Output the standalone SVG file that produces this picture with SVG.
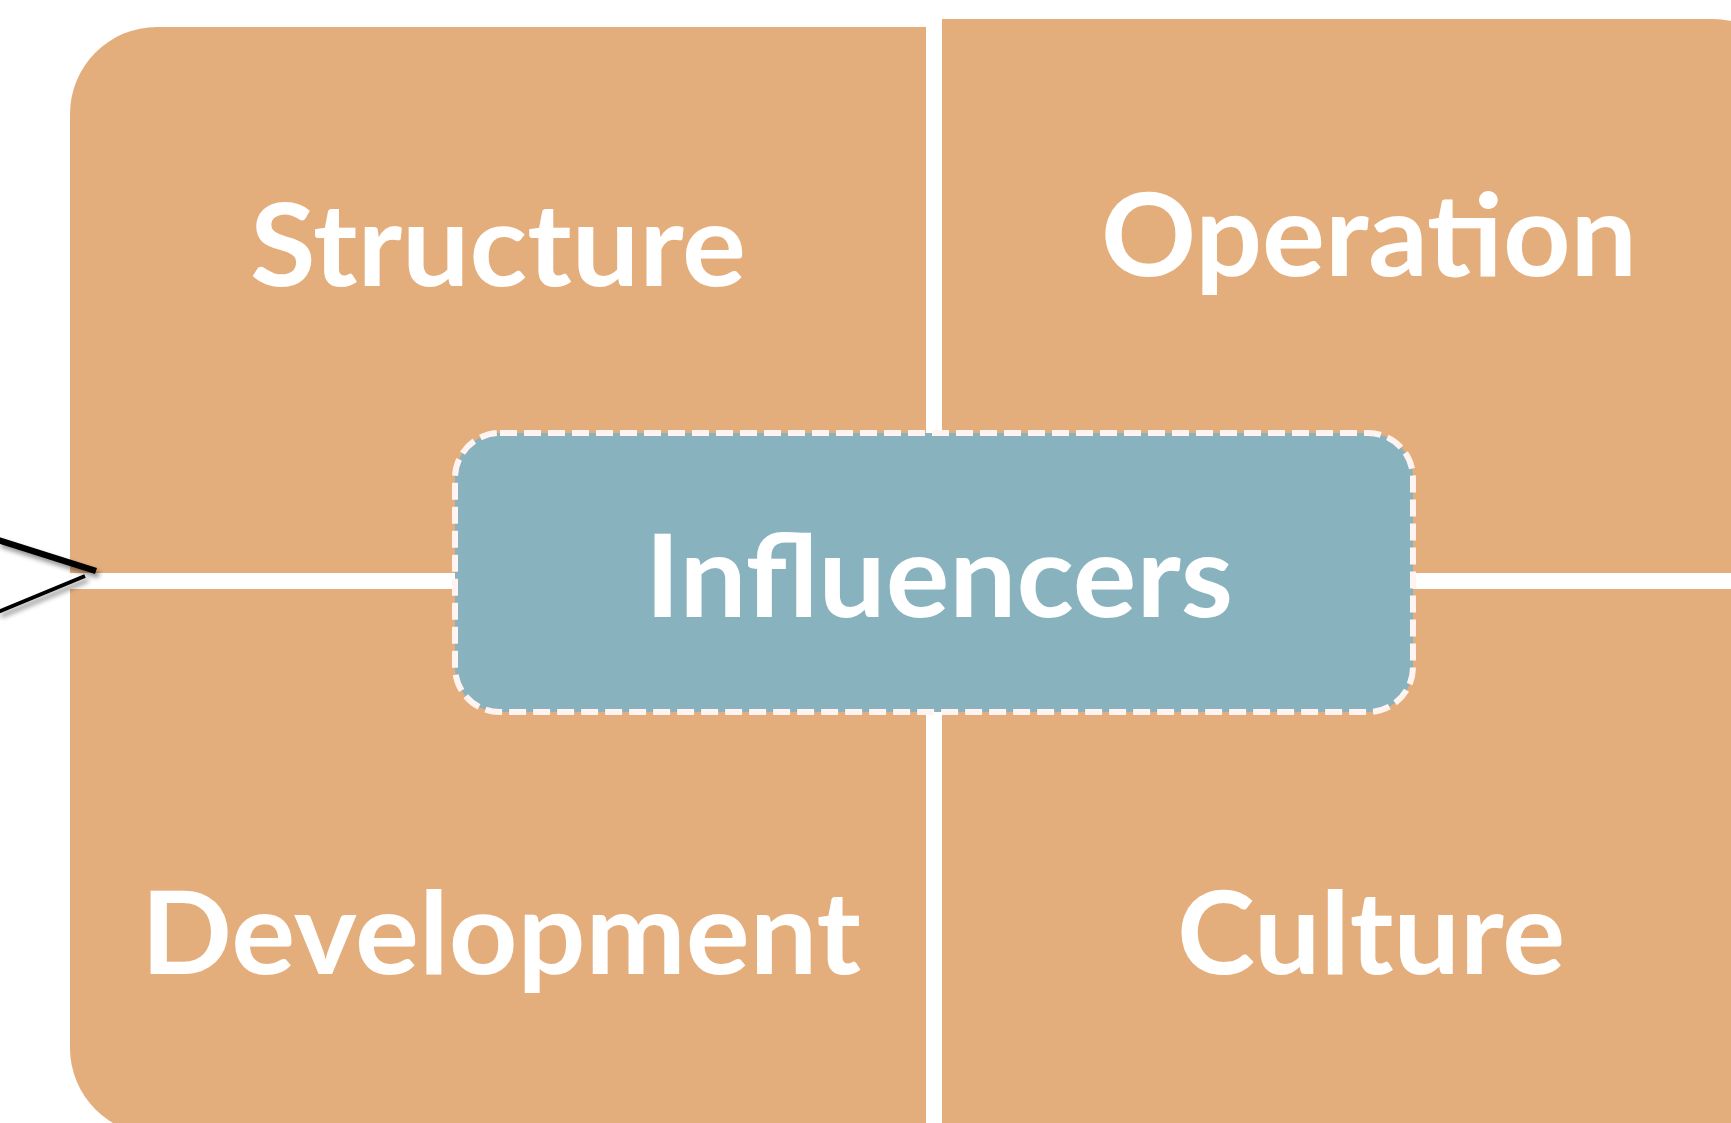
<svg xmlns="http://www.w3.org/2000/svg" width="1731" height="1123" viewBox="0 0 1731 1123">
  <defs>
    <style>
      .quad { fill: #E4AD7C; }
      .label { font-family: "Lato", "Liberation Sans", sans-serif; font-weight: 700; font-size: 114px; fill: #FFFFFF; }
      .hub { fill: #88B2BE; stroke: #FFF4F2; stroke-width: 6; stroke-dasharray: 17 7; }
      .pointer { fill: none; stroke: #000000; stroke-linecap: butt; }
    </style>
    <filter id="softShadow" x="-20%" y="-50%" width="140%" height="200%">
      <feGaussianBlur in="SourceAlpha" stdDeviation="2.5"/>
      <feOffset dx="3" dy="4" result="blur"/>
      <feComponentTransfer><feFuncA type="linear" slope="0.45"/></feComponentTransfer>
      <feMerge><feMergeNode/><feMergeNode in="SourceGraphic"/></feMerge>
    </filter>
  </defs>

  <rect width="1731" height="1123" fill="#FFFFFF"/>

  <!-- four quadrants separated by white gaps -->
  <g id="structure">
    <path class="quad" d="M70,114 A87,87 0 0 1 157,27 L926,27 L926,573 L70,573 Z"/>
    <text class="label" x="250" y="286" textLength="496" lengthAdjust="spacingAndGlyphs">Structure</text>
  </g>
  <g id="operation">
    <path class="quad" d="M942,19 L1713,19 A87,87 0 0 1 1800,106 L1800,573 L942,573 Z"/>
    <text class="label" x="1101" y="276" textLength="536" lengthAdjust="spacingAndGlyphs">Operation</text>
  </g>
  <g id="development">
    <path class="quad" d="M70,589 L926,589 L926,1135 L157,1135 A87,87 0 0 1 70,1048 Z"/>
    <text class="label" x="141" y="974" textLength="720" lengthAdjust="spacingAndGlyphs">Development</text>
  </g>
  <g id="culture">
    <path class="quad" d="M942,589 L1800,589 L1800,1135 L942,1135 Z"/>
    <text class="label" x="1177" y="974" textLength="388" lengthAdjust="spacingAndGlyphs">Culture</text>
  </g>

  <!-- central hub -->
  <g id="influencers">
    <rect class="hub" x="455" y="433" width="958" height="279" rx="45" ry="45"/>
    <text class="label" x="645" y="617" textLength="588" lengthAdjust="spacingAndGlyphs">Influencers</text>
  </g>

  <!-- pointer lines entering from the left -->
  <g id="connectors" filter="url(#softShadow)">
    <line class="pointer" x1="-2" y1="540" x2="96" y2="571" stroke-width="6.5"/>
    <line class="pointer" x1="-2" y1="612" x2="85" y2="576" stroke-width="4"/>
  </g>
</svg>
